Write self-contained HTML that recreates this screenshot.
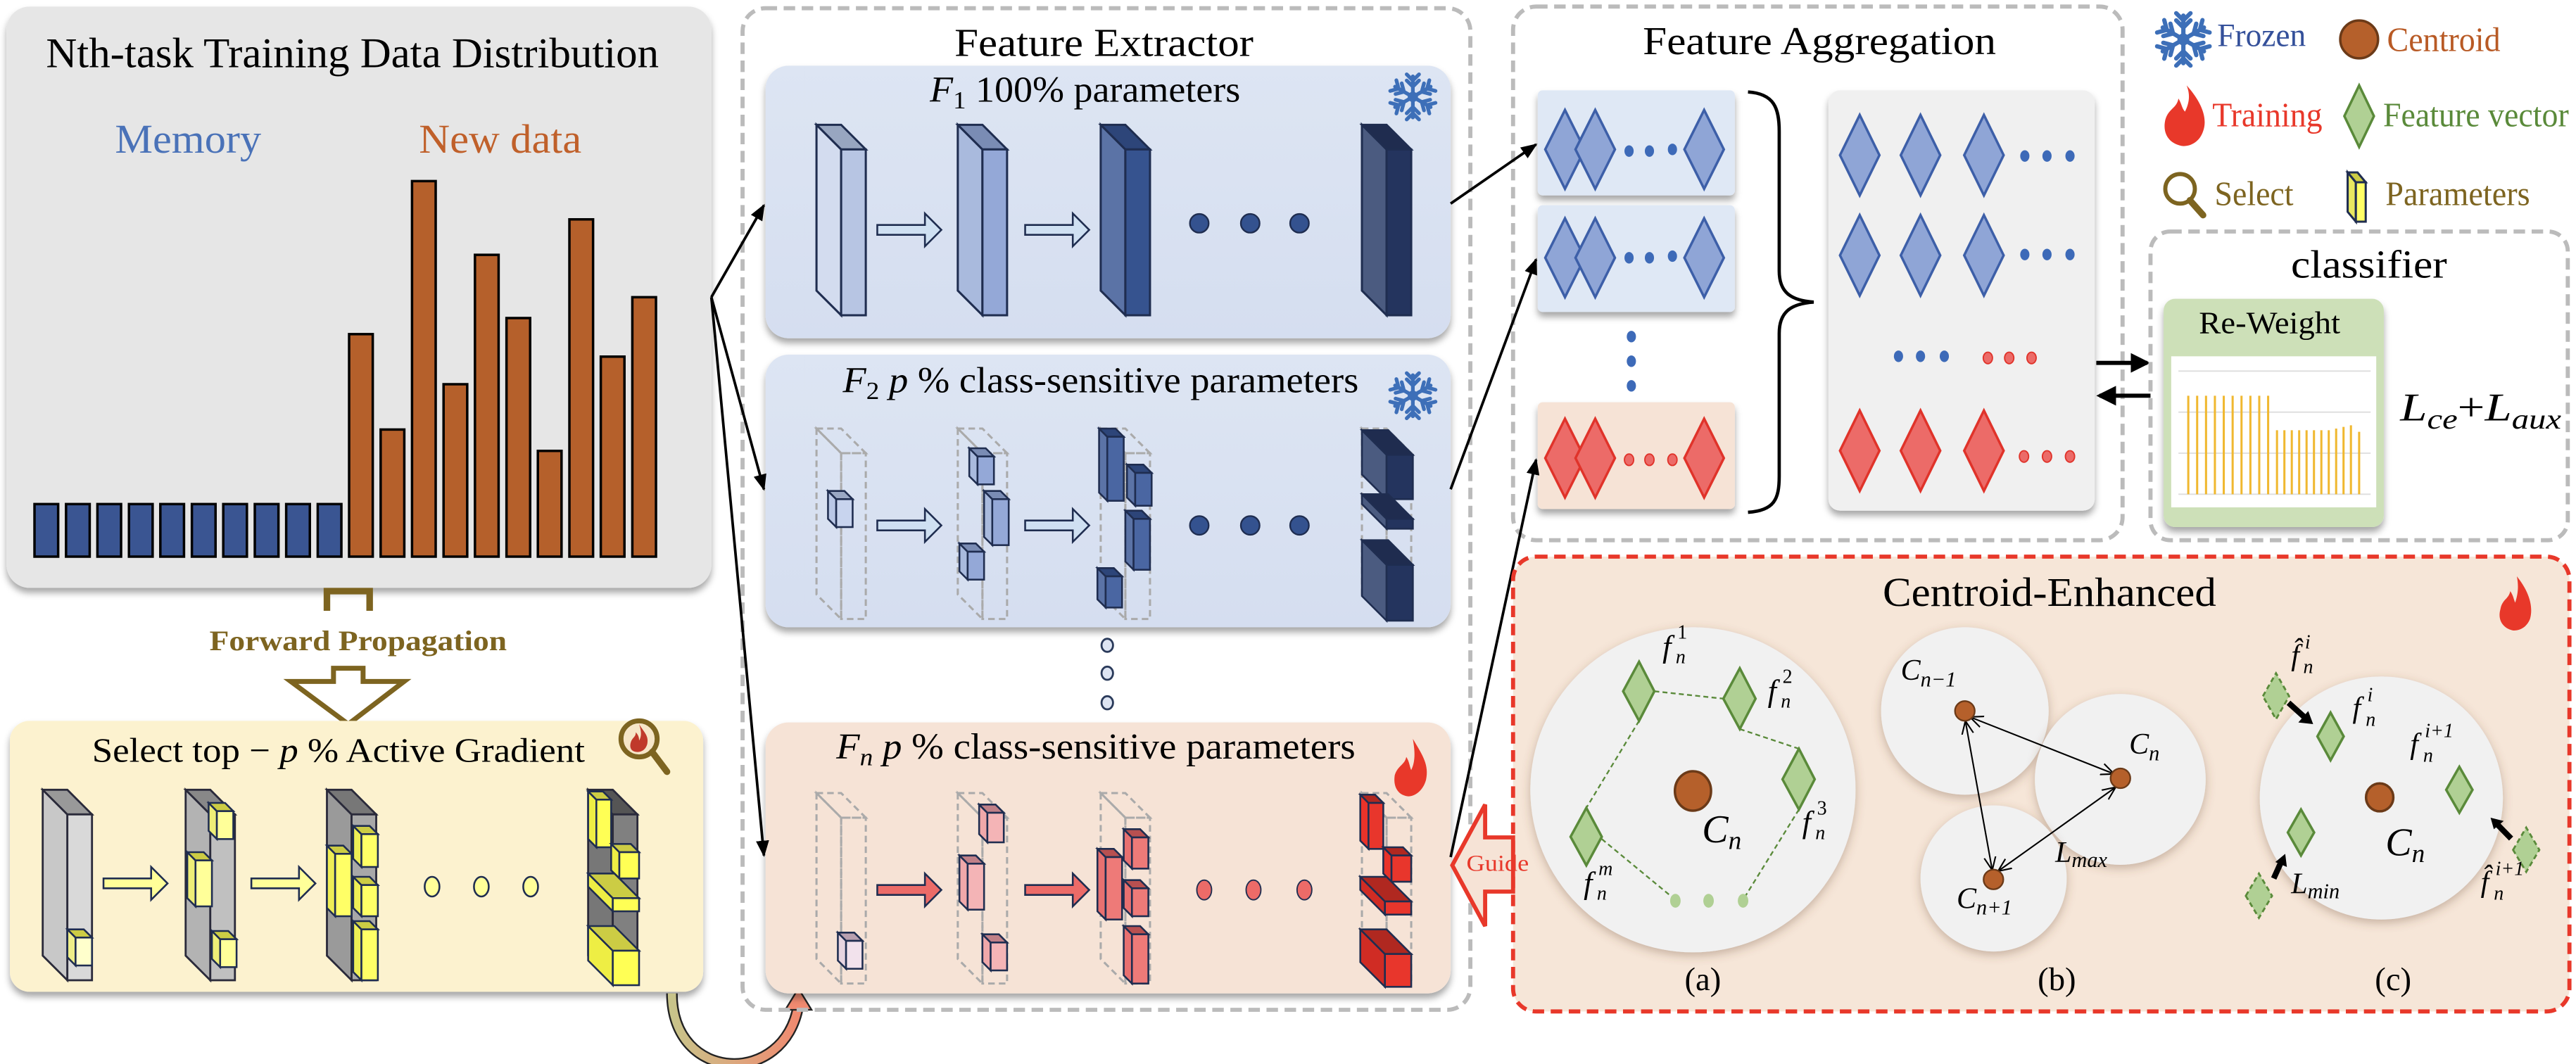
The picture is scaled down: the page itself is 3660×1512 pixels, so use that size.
<!DOCTYPE html>
<html><head><meta charset="utf-8"><style>
html,body{margin:0;padding:0;background:#fff;}
svg{display:block;}
text{font-family:"Liberation Serif",serif;}
.it{font-style:italic;}
</style></head><body>
<svg xmlns="http://www.w3.org/2000/svg" width="3660" height="1512" viewBox="0 0 1568 648" preserveAspectRatio="none">
<defs>
<filter id="sh" x="-10%" y="-10%" width="120%" height="125%"><feDropShadow dx="0" dy="3" stdDeviation="2" flood-color="#000" flood-opacity="0.35"/></filter>
<filter id="sh2" x="-10%" y="-10%" width="120%" height="125%"><feDropShadow dx="0" dy="2" stdDeviation="3" flood-color="#6b4a30" flood-opacity="0.35"/></filter>
<marker id="ah" markerWidth="10" markerHeight="10" refX="9" refY="5" orient="auto-start-reverse" markerUnits="userSpaceOnUse"><path d="M0,1 L10,5 L0,9 Z" fill="#000"/></marker>
<marker id="ah2" markerWidth="8" markerHeight="8" refX="7" refY="4" orient="auto-start-reverse" markerUnits="userSpaceOnUse"><path d="M0,0.5 L8,4 L0,7.5" fill="none" stroke="#000" stroke-width="0.9"/></marker>
<marker id="ah3" markerWidth="12" markerHeight="12" refX="10" refY="6" orient="auto" markerUnits="userSpaceOnUse"><path d="M0,0 L12,6 L0,12 Z" fill="#000"/></marker>
<linearGradient id="cg" x1="0" y1="0" x2="1" y2="0"><stop offset="0" stop-color="#c8c48a"/><stop offset="1" stop-color="#f08a70"/></linearGradient>
<linearGradient id="bl" x1="0" y1="0" x2="0" y2="1"><stop offset="0" stop-color="#dde5f3"/><stop offset="1" stop-color="#d5def0"/></linearGradient>
<g id="arm"><line x1="0" y1="0" x2="0" y2="-10" /><polyline points="-3,-8 0,-5 3,-8" fill="none"/><polyline points="-3,-11 0,-8 3,-11" fill="none"/></g>
<g id="snow" stroke="#3d6fb8" stroke-width="1.8" stroke-linecap="round">
<use href="#arm"/><use href="#arm" transform="rotate(60)"/><use href="#arm" transform="rotate(120)"/><use href="#arm" transform="rotate(180)"/><use href="#arm" transform="rotate(240)"/><use href="#arm" transform="rotate(300)"/>
<circle r="2.5" fill="#3d6fb8" stroke="none"/>
</g>
</defs>

<!-- ============ Top-left panel ============ -->
<rect x="4" y="4" width="429" height="354" rx="14" fill="#e6e6e6" filter="url(#sh)"/>
<text x="28" y="41" font-size="26" textLength="373" lengthAdjust="spacingAndGlyphs">Nth-task Training Data Distribution</text>
<text x="70" y="93" font-size="25" fill="#4a72b8" textLength="89" lengthAdjust="spacingAndGlyphs">Memory</text>
<text x="255" y="93" font-size="25" fill="#c0602a" textLength="99" lengthAdjust="spacingAndGlyphs">New data</text>
<g stroke="#000" stroke-width="1.5" fill="#3a5592">
<rect x="21" y="307" width="14.4" height="32"/><rect x="40.2" y="307" width="14.4" height="32"/><rect x="59.3" y="307" width="14.4" height="32"/><rect x="78.5" y="307" width="14.4" height="32"/><rect x="97.6" y="307" width="14.4" height="32"/><rect x="116.8" y="307" width="14.4" height="32"/><rect x="135.9" y="307" width="14.4" height="32"/><rect x="155.1" y="307" width="14.4" height="32"/><rect x="174.2" y="307" width="14.4" height="32"/><rect x="193.4" y="307" width="14.4" height="32"/>
</g>
<g stroke="#000" stroke-width="1.5" fill="#b5602b">
<rect x="212.5" y="203.5" width="14.4" height="135.5"/>
<rect x="231.7" y="261.6" width="14.4" height="77.4"/>
<rect x="250.8" y="110.3" width="14.4" height="228.7"/>
<rect x="270" y="234" width="14.4" height="105"/>
<rect x="289.1" y="155.2" width="14.4" height="183.8"/>
<rect x="308.3" y="193.7" width="14.4" height="145.3"/>
<rect x="327.4" y="274.6" width="14.4" height="64.4"/>
<rect x="346.6" y="133.6" width="14.4" height="205.4"/>
<rect x="365.7" y="217.2" width="14.4" height="121.8"/>
<rect x="384.9" y="181" width="14.4" height="158"/>
</g>

<!-- Forward propagation -->
<path d="M199,372 L199,360 L225,360 L225,372" fill="none" stroke="#7d6420" stroke-width="4"/>
<text x="218" y="396" font-size="17" font-weight="bold" fill="#7d6420" text-anchor="middle" textLength="181" lengthAdjust="spacingAndGlyphs">Forward Propagation</text>
<polygon points="203,407 221,407 221,415 246,415 212,441 177,415 203,415" fill="#fff" stroke="#7d6420" stroke-width="3"/>

<!-- ============ Yellow panel ============ -->
<rect x="6" y="439" width="422" height="165" rx="12" fill="#fcf2cf" filter="url(#sh)"/>
<text x="56" y="464" font-size="21" textLength="300" lengthAdjust="spacingAndGlyphs">Select top − <tspan class="it">p</tspan> % Active Gradient</text>
<g>
<circle cx="389" cy="450" r="11" fill="#f6e6c8" stroke="#7d6420" stroke-width="3"/>
<path d="M389,441 C392,446 395,448 394,453 C393,457 390,458 388,458 C384,458 383,455 384,452 C385,449 387,449 387,446 C389,448 389,450 389,451 C391,448 390,444 389,441 Z" fill="#c0392b"/>
<line x1="397" y1="458" x2="406" y2="470" stroke="#7d6420" stroke-width="4" stroke-linecap="round"/>
</g>
<g stroke="#2a2a3a" stroke-width="1.2">
<g transform="translate(26,481)"><polygon points="0,0 15,15 15,116 0,101" fill="#c8c8c8"/><polygon points="0,0 15,0 30,15 15,15" fill="#999"/><rect x="15" y="15" width="15" height="101" fill="#d9d9d9"/></g>
<g transform="translate(113,481)"><polygon points="0,0 15,15 15,116 0,101" fill="#b3b3b3"/><polygon points="0,0 15,0 30,15 15,15" fill="#888"/><rect x="15" y="15" width="15" height="101" fill="#c0c0c0"/></g>
<g transform="translate(199,481)"><polygon points="0,0 15,15 15,116 0,101" fill="#9a9a9a"/><polygon points="0,0 15,0 30,15 15,15" fill="#777"/><rect x="15" y="15" width="15" height="101" fill="#a8a8a8"/></g>
<g transform="translate(358,481)"><polygon points="0,0 15,15 15,116 0,101" fill="#777"/><polygon points="0,0 15,0 30,15 15,15" fill="#555"/><rect x="15" y="15" width="15" height="101" fill="#808080"/></g>
</g>
<g stroke="#1f2d50" stroke-width="1.1">
<g transform="translate(41,566)"><polygon points="0,0 5,5 5,22 0,17" fill="#eeee88"/><polygon points="0,0 10,0 15,5 5,5" fill="#cccc44"/><rect x="5" y="5" width="10" height="17" fill="#ffffcc"/></g>
<g transform="translate(127,489)"><polygon points="0,0 5,5 5,22 0,17" fill="#eeee77"/><polygon points="0,0 10,0 15,5 5,5" fill="#cccc44"/><rect x="5" y="5" width="10" height="17" fill="#ffff99"/></g>
<g transform="translate(114,519)"><polygon points="0,0 5,5 5,33 0,28" fill="#eeee77"/><polygon points="0,0 10,0 15,5 5,5" fill="#cccc44"/><rect x="5" y="5" width="10" height="28" fill="#ffff99"/></g>
<g transform="translate(129,567)"><polygon points="0,0 5,5 5,22 0,17" fill="#eeee77"/><polygon points="0,0 10,0 15,5 5,5" fill="#cccc44"/><rect x="5" y="5" width="10" height="17" fill="#ffff99"/></g>
<g transform="translate(215,503)"><polygon points="0,0 5,5 5,25 0,20" fill="#eeee55"/><polygon points="0,0 10,0 15,5 5,5" fill="#cccc44"/><rect x="5" y="5" width="10" height="20" fill="#ffff66"/></g>
<g transform="translate(199,515)"><polygon points="0,0 5,5 5,43 0,38" fill="#eeee55"/><polygon points="0,0 10,0 15,5 5,5" fill="#cccc44"/><rect x="5" y="5" width="10" height="38" fill="#ffff66"/></g>
<g transform="translate(215,534)"><polygon points="0,0 5,5 5,24 0,19" fill="#eeee55"/><polygon points="0,0 10,0 15,5 5,5" fill="#cccc44"/><rect x="5" y="5" width="10" height="19" fill="#ffff66"/></g>
<g transform="translate(215,561)"><polygon points="0,0 5,5 5,36 0,31" fill="#eeee55"/><polygon points="0,0 10,0 15,5 5,5" fill="#cccc44"/><rect x="5" y="5" width="10" height="31" fill="#ffff66"/></g>
<g transform="translate(358,482)"><polygon points="0,0 5,5 5,34 0,29" fill="#eeee44"/><polygon points="0,0 9,0 14,5 5,5" fill="#cccc44"/><rect x="5" y="5" width="9" height="29" fill="#ffff55"/></g>
<g transform="translate(372,514)"><polygon points="0,0 5,5 5,21 0,16" fill="#eeee44"/><polygon points="0,0 12,0 17,5 5,5" fill="#cccc44"/><rect x="5" y="5" width="12" height="16" fill="#ffff55"/></g>
<g transform="translate(358,532)"><polygon points="0,0 15,15 15,23 0,8" fill="#eeee44"/><polygon points="0,0 16,0 31,15 15,15" fill="#cccc44"/><rect x="15" y="15" width="16" height="8" fill="#ffff55"/></g>
<g transform="translate(358,564)"><polygon points="0,0 15,15 15,36 0,21" fill="#eeee44"/><polygon points="0,0 16,0 31,15 15,15" fill="#cccc44"/><rect x="15" y="15" width="16" height="21" fill="#ffff55"/></g>
</g>
<g fill="#ffff99" stroke="#1f2d50" stroke-width="1.1">
<polygon points="63,535 92,535 92,528 102,538 92,548 92,541 63,541"/>
<polygon points="153,535 182,535 182,528 192,538 182,548 182,541 153,541"/>
<ellipse cx="263" cy="540" rx="4.5" ry="6"/><ellipse cx="293" cy="540" rx="4.5" ry="6"/><ellipse cx="323" cy="540" rx="4.5" ry="6"/>
</g>

<!-- curved arrow -->
<path d="M409,605 C409,660 478,662 486,612" fill="none" stroke="#222" stroke-width="7"/>
<path d="M409,605 C409,660 478,662 486,612" fill="none" stroke="url(#cg)" stroke-width="5"/>
<polygon points="486,602 478,615 494,615" fill="#f08a70" stroke="#222" stroke-width="1"/>

<!-- ============ Feature Extractor ============ -->
<rect x="452" y="5" width="443" height="610" rx="14" fill="none" stroke="#bbb" stroke-width="2.5" stroke-dasharray="7,4"/>
<text x="581" y="34" font-size="24" textLength="182" lengthAdjust="spacingAndGlyphs">Feature Extractor</text>

<!-- F1 -->
<rect x="466" y="40" width="417" height="166" rx="14" fill="url(#bl)" filter="url(#sh)"/>
<text x="566" y="62" font-size="22" textLength="189" lengthAdjust="spacingAndGlyphs"><tspan class="it">F</tspan><tspan font-size="15" dy="4">1</tspan><tspan dy="-4"> 100% parameters</tspan></text>
<use href="#snow" transform="translate(860,59) scale(1.25)"/>
<g stroke="#1f2d50" stroke-width="1.3">
<g transform="translate(497,76)"><polygon points="0,0 15,15 15,116 0,101" fill="#d3dcef"/><polygon points="0,0 15,0 30,15 15,15" fill="#98a6c0"/><rect x="15" y="15" width="15" height="101" fill="#b7c5e3"/></g>
<g transform="translate(583,76)"><polygon points="0,0 15,15 15,116 0,101" fill="#a9badd"/><polygon points="0,0 15,0 30,15 15,15" fill="#7a8cb4"/><rect x="15" y="15" width="15" height="101" fill="#94a8d7"/></g>
<g transform="translate(670,76)"><polygon points="0,0 15,15 15,116 0,101" fill="#5b73a6"/><polygon points="0,0 15,0 30,15 15,15" fill="#2d4579"/><rect x="15" y="15" width="15" height="101" fill="#36538f"/></g>
<g transform="translate(829,76)"><polygon points="0,0 15,15 15,116 0,101" fill="#4b5b80"/><polygon points="0,0 15,0 30,15 15,15" fill="#1f2c4f"/><rect x="15" y="15" width="15" height="101" fill="#24345e"/></g>
</g>
<g fill="#cfe0f2" stroke="#1f2d50" stroke-width="1.1">
<polygon points="534,137 563,137 563,130 573,140 563,150 563,143 534,143"/>
<polygon points="624,137 653,137 653,130 663,140 653,150 653,143 624,143"/>
</g>
<g fill="#34528f" stroke="#1f2d50"><circle cx="730" cy="136" r="5.7"/><circle cx="761" cy="136" r="5.7"/><circle cx="791" cy="136" r="5.7"/></g>

<!-- F2 -->
<rect x="466" y="216" width="417" height="166" rx="14" fill="url(#bl)" filter="url(#sh)"/>
<text x="513" y="239" font-size="22" textLength="314" lengthAdjust="spacingAndGlyphs"><tspan class="it">F</tspan><tspan font-size="15" dy="4">2</tspan><tspan dy="-4"> </tspan><tspan class="it">p</tspan> % class-sensitive parameters</text>
<use href="#snow" transform="translate(860,241) scale(1.25)"/>
<g fill="none" stroke="#aaa" stroke-width="1.3" stroke-dasharray="4,2.5">
<g transform="translate(497,261)"><polygon points="0,0 15,15 15,116 0,101"/><polygon points="0,0 15,0 30,15 15,15"/><rect x="15" y="15" width="15" height="101"/></g>
<g transform="translate(583,261)"><polygon points="0,0 15,15 15,116 0,101"/><polygon points="0,0 15,0 30,15 15,15"/><rect x="15" y="15" width="15" height="101"/></g>
<g transform="translate(670,261)"><polygon points="0,0 15,15 15,116 0,101"/><polygon points="0,0 15,0 30,15 15,15"/><rect x="15" y="15" width="15" height="101"/></g>
<g transform="translate(829,261)"><polygon points="0,0 15,15 15,116 0,101"/><polygon points="0,0 15,0 30,15 15,15"/><rect x="15" y="15" width="15" height="101"/></g>
</g>
<g stroke="#1f2d50" stroke-width="1.1">
<g transform="translate(504,299)"><polygon points="0,0 5,5 5,22 0,17" fill="#b9c7e6"/><polygon points="0,0 10,0 15,5 5,5" fill="#9aa8c4"/><rect x="5" y="5" width="10" height="17" fill="#c8d4ee"/></g>
<g transform="translate(590,273)"><polygon points="0,0 5,5 5,22 0,17" fill="#a9badd"/><polygon points="0,0 10,0 15,5 5,5" fill="#7a8cb4"/><rect x="5" y="5" width="10" height="17" fill="#94a8d7"/></g>
<g transform="translate(599,299)"><polygon points="0,0 5,5 5,33 0,28" fill="#a9badd"/><polygon points="0,0 10,0 15,5 5,5" fill="#7a8cb4"/><rect x="5" y="5" width="10" height="28" fill="#94a8d7"/></g>
<g transform="translate(584,331)"><polygon points="0,0 5,5 5,22 0,17" fill="#a9badd"/><polygon points="0,0 10,0 15,5 5,5" fill="#7a8cb4"/><rect x="5" y="5" width="10" height="17" fill="#94a8d7"/></g>
<g transform="translate(669,261)"><polygon points="0,0 5,5 5,44 0,39" fill="#5b73a6"/><polygon points="0,0 10,0 15,5 5,5" fill="#2d4579"/><rect x="5" y="5" width="10" height="39" fill="#4a66a2"/></g>
<g transform="translate(686,283)"><polygon points="0,0 5,5 5,25 0,20" fill="#5b73a6"/><polygon points="0,0 10,0 15,5 5,5" fill="#2d4579"/><rect x="5" y="5" width="10" height="20" fill="#4a66a2"/></g>
<g transform="translate(685,311)"><polygon points="0,0 5,5 5,36 0,31" fill="#5b73a6"/><polygon points="0,0 10,0 15,5 5,5" fill="#2d4579"/><rect x="5" y="5" width="10" height="31" fill="#4a66a2"/></g>
<g transform="translate(668,346)"><polygon points="0,0 5,5 5,24 0,19" fill="#5b73a6"/><polygon points="0,0 10,0 15,5 5,5" fill="#2d4579"/><rect x="5" y="5" width="10" height="19" fill="#4a66a2"/></g>
<g transform="translate(829,262)"><polygon points="0,0 15,15 15,42 0,27" fill="#4b5b80"/><polygon points="0,0 16,0 31,15 15,15" fill="#1f2c4f"/><rect x="15" y="15" width="16" height="27" fill="#24345e"/></g>
<g transform="translate(829,301)"><polygon points="0,0 15,15 15,21 0,6" fill="#4b5b80"/><polygon points="0,0 16,0 31,15 15,15" fill="#1f2c4f"/><rect x="15" y="15" width="16" height="6" fill="#24345e"/></g>
<g transform="translate(829,329)"><polygon points="0,0 15,15 15,49 0,34" fill="#4b5b80"/><polygon points="0,0 16,0 31,15 15,15" fill="#1f2c4f"/><rect x="15" y="15" width="16" height="34" fill="#24345e"/></g>
</g>
<g fill="#cfe0f2" stroke="#1f2d50" stroke-width="1.1">
<polygon points="534,317 563,317 563,310 573,320 563,330 563,323 534,323"/>
<polygon points="624,317 653,317 653,310 663,320 653,330 653,323 624,323"/>
</g>
<g fill="#34528f" stroke="#1f2d50"><circle cx="730" cy="320" r="5.7"/><circle cx="761" cy="320" r="5.7"/><circle cx="791" cy="320" r="5.7"/></g>
<g fill="#dde4f2" stroke="#2a3a5a" stroke-width="1.2"><ellipse cx="674" cy="393" rx="3.5" ry="4"/><ellipse cx="674" cy="410" rx="3.5" ry="4"/><ellipse cx="674" cy="428" rx="3.5" ry="4"/></g>

<!-- Fn -->
<rect x="466" y="440" width="417" height="165" rx="14" fill="#f6e3d6" filter="url(#sh)"/>
<text x="509" y="462" font-size="22" textLength="316" lengthAdjust="spacingAndGlyphs"><tspan class="it">F</tspan><tspan font-size="15" dy="4" class="it">n</tspan><tspan dy="-4"> </tspan><tspan class="it">p</tspan> % class-sensitive parameters</text>
<path d="M860,450 C866,460 870,466 868,475 C866,482 861,485 857,485 C850,484 848,478 849,472 C851,466 855,466 856,461 C858,464 858,467 859,469 C862,463 861,456 860,450 Z" fill="#e8382a"/>
<g fill="none" stroke="#aaa" stroke-width="1.3" stroke-dasharray="4,2.5">
<g transform="translate(497,483)"><polygon points="0,0 15,15 15,116 0,101"/><polygon points="0,0 15,0 30,15 15,15"/><rect x="15" y="15" width="15" height="101"/></g>
<g transform="translate(583,483)"><polygon points="0,0 15,15 15,116 0,101"/><polygon points="0,0 15,0 30,15 15,15"/><rect x="15" y="15" width="15" height="101"/></g>
<g transform="translate(670,483)"><polygon points="0,0 15,15 15,116 0,101"/><polygon points="0,0 15,0 30,15 15,15"/><rect x="15" y="15" width="15" height="101"/></g>
<g transform="translate(829,483)"><polygon points="0,0 15,15 15,116 0,101"/><polygon points="0,0 15,0 30,15 15,15"/><rect x="15" y="15" width="15" height="101"/></g>
</g>
<g stroke="#1f2d50" stroke-width="1.1">
<g transform="translate(510,568)"><polygon points="0,0 5,5 5,22 0,17" fill="#e6d4e0"/><polygon points="0,0 10,0 15,5 5,5" fill="#b8a0b0"/><rect x="5" y="5" width="10" height="17" fill="#f2e2ec"/></g>
<g transform="translate(596,490)"><polygon points="0,0 5,5 5,23 0,18" fill="#f0a8aa"/><polygon points="0,0 10,0 15,5 5,5" fill="#c08088"/><rect x="5" y="5" width="10" height="18" fill="#f4b4b6"/></g>
<g transform="translate(584,521)"><polygon points="0,0 5,5 5,33 0,28" fill="#f0a8aa"/><polygon points="0,0 10,0 15,5 5,5" fill="#c08088"/><rect x="5" y="5" width="10" height="28" fill="#f4b4b6"/></g>
<g transform="translate(598,569)"><polygon points="0,0 5,5 5,22 0,17" fill="#f0a8aa"/><polygon points="0,0 10,0 15,5 5,5" fill="#c08088"/><rect x="5" y="5" width="10" height="17" fill="#f4b4b6"/></g>
<g transform="translate(684,505)"><polygon points="0,0 5,5 5,24 0,19" fill="#e87070"/><polygon points="0,0 10,0 15,5 5,5" fill="#b85050"/><rect x="5" y="5" width="10" height="19" fill="#ee7a78"/></g>
<g transform="translate(668,517)"><polygon points="0,0 5,5 5,43 0,38" fill="#e87070"/><polygon points="0,0 10,0 15,5 5,5" fill="#b85050"/><rect x="5" y="5" width="10" height="38" fill="#ee7a78"/></g>
<g transform="translate(684,536)"><polygon points="0,0 5,5 5,22 0,17" fill="#e87070"/><polygon points="0,0 10,0 15,5 5,5" fill="#b85050"/><rect x="5" y="5" width="10" height="17" fill="#ee7a78"/></g>
<g transform="translate(684,564)"><polygon points="0,0 5,5 5,35 0,30" fill="#e87070"/><polygon points="0,0 10,0 15,5 5,5" fill="#b85050"/><rect x="5" y="5" width="10" height="30" fill="#ee7a78"/></g>
<g transform="translate(828,484)"><polygon points="0,0 5,5 5,33 0,28" fill="#e8332a"/><polygon points="0,0 9,0 14,5 5,5" fill="#b02820"/><rect x="5" y="5" width="9" height="28" fill="#e8362c"/></g>
<g transform="translate(842,516)"><polygon points="0,0 5,5 5,21 0,16" fill="#e8332a"/><polygon points="0,0 12,0 17,5 5,5" fill="#b02820"/><rect x="5" y="5" width="12" height="16" fill="#e8362c"/></g>
<g transform="translate(828,534)"><polygon points="0,0 15,15 15,23 0,8" fill="#d02c24"/><polygon points="0,0 16,0 31,15 15,15" fill="#b02820"/><rect x="15" y="15" width="16" height="8" fill="#e8362c"/></g>
<g transform="translate(828,566)"><polygon points="0,0 15,15 15,35 0,20" fill="#d02c24"/><polygon points="0,0 16,0 31,15 15,15" fill="#b02820"/><rect x="15" y="15" width="16" height="20" fill="#e8362c"/></g>
</g>
<g fill="#ec6b68" stroke="#1f2d50" stroke-width="1.1">
<polygon points="534,539 563,539 563,532 573,542 563,552 563,545 534,545"/>
<polygon points="624,539 653,539 653,532 663,542 653,552 653,545 624,545"/>
</g>
<g fill="#ec6b68" stroke="#1f2d50" stroke-width="0.8"><ellipse cx="733" cy="542" rx="4.5" ry="6"/><ellipse cx="763" cy="542" rx="4.5" ry="6"/><ellipse cx="794" cy="542" rx="4.5" ry="6"/></g>

<!-- arrows from data panel -->
<g stroke="#000" stroke-width="1.6" fill="none" marker-end="url(#ah)">
<line x1="433" y1="181" x2="465" y2="125"/>
<line x1="433" y1="181" x2="465" y2="298"/>
<line x1="433" y1="181" x2="465" y2="521"/>
</g>

<!-- ============ Feature Aggregation ============ -->
<rect x="921" y="4" width="371" height="325" rx="14" fill="none" stroke="#bbb" stroke-width="2.5" stroke-dasharray="7,4"/>
<text x="1000" y="33" font-size="24" textLength="215" lengthAdjust="spacingAndGlyphs">Feature Aggregation</text>
<rect x="936" y="55" width="120" height="64" rx="3" fill="#dfe8f5" filter="url(#sh)"/>
<rect x="936" y="125" width="120" height="65" rx="3" fill="#dfe8f5" filter="url(#sh)"/>
<rect x="936" y="245" width="120" height="65" rx="3" fill="#f6e3d6" filter="url(#sh)"/>
<g fill="#8fa5d6" stroke="#3d5fa8" stroke-width="1.5">
<polygon points="940.6,91 952.6,67 964.6,91 952.6,115"/><polygon points="959,91 971,67 983,91 971,115"/><polygon points="1025.3,91 1037.3,67 1049.3,91 1037.3,115"/>
<polygon points="940.6,157 952.6,133 964.6,157 952.6,181"/><polygon points="959,157 971,133 983,157 971,181"/><polygon points="1025.3,157 1037.3,133 1049.3,157 1037.3,181"/>
</g>
<g fill="#ec6b68" stroke="#e0332a" stroke-width="1.5">
<polygon points="940.6,279 952.6,255 964.6,279 952.6,303"/><polygon points="959,279 971,255 983,279 971,303"/><polygon points="1025.3,279 1037.3,255 1049.3,279 1037.3,303"/>
</g>
<g fill="#3d6ab8"><ellipse cx="991.6" cy="92" rx="2.8" ry="3.5"/><ellipse cx="1004" cy="92" rx="2.8" ry="3.5"/><ellipse cx="1018" cy="91" rx="2.8" ry="3.5"/>
<ellipse cx="991.6" cy="157" rx="2.8" ry="3.5"/><ellipse cx="1004" cy="157" rx="2.8" ry="3.5"/><ellipse cx="1018" cy="156" rx="2.8" ry="3.5"/>
<ellipse cx="993" cy="205" rx="2.8" ry="3.5"/><ellipse cx="993" cy="220" rx="2.8" ry="3.5"/><ellipse cx="993" cy="235" rx="2.8" ry="3.5"/></g>
<g fill="#ec6b68" stroke="#e0332a" stroke-width="0.8"><ellipse cx="991.6" cy="280" rx="2.8" ry="3.5"/><ellipse cx="1004" cy="280" rx="2.8" ry="3.5"/><ellipse cx="1018" cy="280" rx="2.8" ry="3.5"/></g>
<path d="M1064,56 C1080,57 1083,66 1083,80 L1083,165 C1083,178 1090,183 1104,184 C1090,185 1083,190 1083,203 L1083,290 C1083,304 1080,311 1064,312" fill="none" stroke="#000" stroke-width="2"/>
<rect x="1113" y="55" width="162" height="256" rx="7" fill="#f0f0f0" filter="url(#sh)"/>
<g fill="#8fa5d6" stroke="#3d5fa8" stroke-width="1.5">
<polygon points="1120,94.5 1132,70 1144,94.5 1132,119"/><polygon points="1157,94.5 1169,70 1181,94.5 1169,119"/><polygon points="1195.6,94.5 1207.6,70 1219.6,94.5 1207.6,119"/>
<polygon points="1120,155.5 1132,131 1144,155.5 1132,180"/><polygon points="1157,155.5 1169,131 1181,155.5 1169,180"/><polygon points="1195.6,155.5 1207.6,131 1219.6,155.5 1207.6,180"/>
</g>
<g fill="#ec6b68" stroke="#e0332a" stroke-width="1.5">
<polygon points="1120,274.5 1132,250 1144,274.5 1132,299"/><polygon points="1157,274.5 1169,250 1181,274.5 1169,299"/><polygon points="1195.6,274.5 1207.6,250 1219.6,274.5 1207.6,299"/>
</g>
<g fill="#3d6ab8"><ellipse cx="1232.5" cy="95" rx="2.8" ry="3.5"/><ellipse cx="1246" cy="95" rx="2.8" ry="3.5"/><ellipse cx="1260" cy="95" rx="2.8" ry="3.5"/>
<ellipse cx="1232.5" cy="155" rx="2.8" ry="3.5"/><ellipse cx="1246" cy="155" rx="2.8" ry="3.5"/><ellipse cx="1260" cy="155" rx="2.8" ry="3.5"/>
<ellipse cx="1155.6" cy="217" rx="2.8" ry="3.5"/><ellipse cx="1169" cy="217" rx="2.8" ry="3.5"/><ellipse cx="1183.5" cy="217" rx="2.8" ry="3.5"/></g>
<g fill="#ec6b68" stroke="#e0332a" stroke-width="0.8"><ellipse cx="1210" cy="218" rx="2.8" ry="3.5"/><ellipse cx="1223" cy="218" rx="2.8" ry="3.5"/><ellipse cx="1236.6" cy="218" rx="2.8" ry="3.5"/>
<ellipse cx="1232" cy="278" rx="2.8" ry="3.5"/><ellipse cx="1246" cy="278" rx="2.8" ry="3.5"/><ellipse cx="1260" cy="278" rx="2.8" ry="3.5"/></g>

<g stroke="#000" stroke-width="1.6" fill="none" marker-end="url(#ah)">
<line x1="883" y1="124" x2="935" y2="88"/>
<line x1="883" y1="298" x2="935" y2="158"/>
<line x1="883" y1="522" x2="935" y2="280"/>
</g>
<line x1="1276" y1="221" x2="1307" y2="221" stroke="#000" stroke-width="2.5" marker-end="url(#ah3)"/>
<line x1="1309" y1="241" x2="1278" y2="241" stroke="#000" stroke-width="2.5" marker-end="url(#ah3)"/>

<!-- ============ Legend ============ -->
<use href="#snow" transform="translate(1329,24) scale(1.45)"/>
<text x="1349.6" y="28" font-size="20" fill="#34509a" textLength="54" lengthAdjust="spacingAndGlyphs">Frozen</text>
<circle cx="1436" cy="24" r="11.5" fill="#b5602b" stroke="#6b3a18" stroke-width="1.5"/>
<text x="1453" y="31" font-size="21" fill="#b85a25" textLength="69" lengthAdjust="spacingAndGlyphs">Centroid</text>
<path d="M1331,52 C1340,62 1344,72 1341,80 C1339,86 1334,89 1329,89 C1321,88 1316,82 1318,73 C1320,66 1325,66 1326,60 C1328,63 1328,66 1330,68 C1333,62 1333,57 1331,52 Z" fill="#e8382a"/>
<text x="1346.6" y="77" font-size="21" fill="#e8382a" textLength="67" lengthAdjust="spacingAndGlyphs">Training</text>
<polygon points="1427,70.7 1436,52 1445,70.7 1436,89.5" fill="#b0d094" stroke="#5a8a3a" stroke-width="1.5"/>
<text x="1450.6" y="77" font-size="21" fill="#5a8a3a" textLength="113" lengthAdjust="spacingAndGlyphs">Feature vector</text>
<circle cx="1327" cy="115" r="9" fill="none" stroke="#7d6420" stroke-width="2.5"/>
<line x1="1333" y1="122" x2="1341" y2="131" stroke="#7d6420" stroke-width="4" stroke-linecap="round"/>
<text x="1348" y="125" font-size="21" fill="#7d6420" textLength="48" lengthAdjust="spacingAndGlyphs">Select</text>
<g stroke="#1f2d50" stroke-width="1.3" transform="translate(1429,105)"><polygon points="0,0 5,6 5,30 0,24" fill="#e8e860"/><polygon points="0,0 6,0 11,6 5,6" fill="#cccc44"/><rect x="5" y="6" width="6" height="24" fill="#ffff66"/></g>
<text x="1452" y="125" font-size="21" fill="#7d6420" textLength="88" lengthAdjust="spacingAndGlyphs">Parameters</text>

<!-- ============ classifier ============ -->
<rect x="1309" y="141" width="254" height="188" rx="12" fill="none" stroke="#bbb" stroke-width="2.5" stroke-dasharray="7,4"/>
<text x="1394.5" y="169" font-size="24" textLength="95" lengthAdjust="spacingAndGlyphs">classifier</text>
<rect x="1317" y="182" width="134" height="139" rx="7" fill="#cde0b8" filter="url(#sh)"/>
<text x="1338.5" y="203" font-size="19" textLength="86" lengthAdjust="spacingAndGlyphs">Re-Weight</text>
<rect x="1321.6" y="217" width="124.8" height="92" fill="#fff"/>
<g stroke="#ddd" stroke-width="0.8"><line x1="1326" y1="226" x2="1443" y2="226"/><line x1="1326" y1="251" x2="1443" y2="251"/><line x1="1326" y1="276" x2="1443" y2="276"/><line x1="1326" y1="301" x2="1443" y2="301"/></g>
<g stroke="#f0b830" stroke-width="1.3">
<line x1="1332" y1="241" x2="1332" y2="301"/><line x1="1337.4" y1="241" x2="1337.4" y2="301"/><line x1="1342.8" y1="241" x2="1342.8" y2="301"/><line x1="1348.2" y1="241" x2="1348.2" y2="301"/><line x1="1353.6" y1="241" x2="1353.6" y2="301"/><line x1="1359" y1="241" x2="1359" y2="301"/><line x1="1364.4" y1="241" x2="1364.4" y2="301"/><line x1="1369.8" y1="241" x2="1369.8" y2="301"/><line x1="1375.2" y1="241" x2="1375.2" y2="301"/><line x1="1380.6" y1="241" x2="1380.6" y2="301"/>
<line x1="1386" y1="262" x2="1386" y2="301"/><line x1="1390.5" y1="262" x2="1390.5" y2="301"/><line x1="1395" y1="262" x2="1395" y2="301"/><line x1="1399.5" y1="262" x2="1399.5" y2="301"/><line x1="1404" y1="262" x2="1404" y2="301"/><line x1="1408.5" y1="262" x2="1408.5" y2="301"/><line x1="1413" y1="262" x2="1413" y2="301"/><line x1="1417.5" y1="262" x2="1417.5" y2="301"/><line x1="1422" y1="261" x2="1422" y2="301"/><line x1="1426.5" y1="260" x2="1426.5" y2="301"/><line x1="1431" y1="259" x2="1431" y2="301"/><line x1="1436" y1="263" x2="1436" y2="301"/>
</g>
<text x="1461" y="256" font-size="24" class="it" textLength="98" lengthAdjust="spacingAndGlyphs">L<tspan font-size="17" dy="5">ce</tspan><tspan dy="-5" font-style="normal">+</tspan>L<tspan font-size="17" dy="5">aux</tspan></text>

<!-- ============ Centroid-Enhanced ============ -->
<rect x="921" y="339" width="643" height="277" rx="14" fill="#f6e6d8" stroke="#e8382a" stroke-width="2.5" stroke-dasharray="7,4"/>
<text x="1146" y="369" font-size="25" textLength="203" lengthAdjust="spacingAndGlyphs">Centroid-Enhanced</text>
<path d="M1532,351 C1540,361 1542,370 1540,377 C1538,382 1534,384 1530,384 C1524,383 1520,378 1522,371 C1523,365 1527,365 1528,360 C1530,363 1530,365 1531,367 C1533,361 1533,356 1532,351 Z" fill="#e8382a"/>
<!-- (a) -->
<circle cx="1030.5" cy="481" r="99" fill="#f1f1f1" filter="url(#sh2)"/>
<g fill="none" stroke="#5a8a3a" stroke-width="1" stroke-dasharray="3,2">
<line x1="1007" y1="421" x2="1049" y2="425.5"/>
<line x1="1059" y1="444" x2="1095" y2="456"/>
<line x1="997.7" y1="439" x2="965.6" y2="492"/>
<line x1="975" y1="511" x2="1019.8" y2="548"/>
<line x1="1095" y1="493" x2="1061" y2="548"/>
</g>
<g fill="#b0d094" stroke="#5a8a3a" stroke-width="1.5">
<polygon points="988,421 997.7,403 1007,421 997.7,439"/>
<polygon points="1049,425.5 1059,407 1068.6,425.5 1059,444"/>
<polygon points="1085,474.6 1095,456 1104.6,474.6 1095,493"/>
<polygon points="956,509.6 965.6,492 975,509.6 965.6,527"/>
</g>
<g fill="#b0d094"><ellipse cx="1019.8" cy="548.6" rx="3.2" ry="4.2"/><ellipse cx="1040" cy="548.6" rx="3.2" ry="4.2"/><ellipse cx="1061" cy="548.6" rx="3.2" ry="4.2"/></g>
<ellipse cx="1030.5" cy="481.7" rx="11" ry="12" fill="#b5602b" stroke="#6b3a18" stroke-width="1.5"/>
<g class="it" font-size="19">
<text x="1012" y="400">f</text><text x="1021" y="389" font-size="12" font-style="normal">1</text><text x="1020" y="404" font-size="12">n</text>
<text x="1076" y="427">f</text><text x="1085" y="416" font-size="12" font-style="normal">2</text><text x="1084" y="431" font-size="12">n</text>
<text x="1097" y="507">f</text><text x="1106" y="496" font-size="12" font-style="normal">3</text><text x="1105" y="511" font-size="12">n</text>
<text x="964" y="544">f</text><text x="973" y="533" font-size="12">m</text><text x="972" y="548" font-size="12">n</text>
<text x="1036" y="513" font-size="24">C<tspan font-size="16" dy="4">n</tspan></text>
</g>
<!-- (b) -->
<circle cx="1196" cy="433" r="51" fill="#f1f1f1" filter="url(#sh2)"/>
<circle cx="1290.6" cy="474.7" r="52" fill="#f1f1f1" filter="url(#sh2)"/>
<circle cx="1213.5" cy="535" r="44.5" fill="#f1f1f1" filter="url(#sh2)"/>
<g stroke="#000" stroke-width="0.9" fill="none" marker-start="url(#ah2)" marker-end="url(#ah2)">
<line x1="1200" y1="437" x2="1286" y2="471"/>
<line x1="1196.5" y1="440" x2="1212.5" y2="529"/>
<line x1="1217" y1="530" x2="1287" y2="480"/>
</g>
<g fill="#b5602b" stroke="#6b3a18" stroke-width="1"><ellipse cx="1196" cy="433" rx="6" ry="6"/><ellipse cx="1290.7" cy="474" rx="6" ry="6"/><ellipse cx="1213.4" cy="535.6" rx="6" ry="6"/></g>
<g class="it" font-size="18">
<text x="1157" y="414">C<tspan font-size="13" dy="4">n−1</tspan></text>
<text x="1296" y="459">C<tspan font-size="13" dy="4">n</tspan></text>
<text x="1191" y="553">C<tspan font-size="13" dy="4">n+1</tspan></text>
<text x="1251" y="525">L<tspan font-size="13" dy="3">max</tspan></text>
</g>
<!-- (c) -->
<circle cx="1449.5" cy="486" r="74" fill="#f1f1f1" filter="url(#sh2)"/>
<g fill="#b0d094" stroke="#5a8a3a" stroke-width="1.5">
<polygon points="1410.6,448.5 1418.6,434 1426.6,448.5 1418.6,463"/>
<polygon points="1489,481 1497,467 1505,481 1497,495"/>
<polygon points="1392.6,507 1400.6,493 1408.6,507 1400.6,521"/>
</g>
<g fill="#b0d094" stroke="#5a8a3a" stroke-width="1.2" stroke-dasharray="3,2">
<polygon points="1377.4,424 1385.4,410 1393.4,424 1385.4,438"/>
<polygon points="1529.7,517.6 1537.7,504 1545.7,517.6 1537.7,531"/>
<polygon points="1367,545.6 1375,532 1383,545.6 1375,559"/>
</g>
<ellipse cx="1448.5" cy="485.6" rx="8.3" ry="8.5" fill="#b5602b" stroke="#6b3a18" stroke-width="1.5"/>
<g stroke="#000" stroke-width="3.5" fill="none">
<line x1="1393" y1="428" x2="1403" y2="437"/>
<line x1="1528.5" y1="510.7" x2="1520" y2="502"/>
<line x1="1384" y1="535" x2="1388.5" y2="525"/>
</g>
<g fill="#000"><polygon points="1408,441 1399,440 1405,433"/><polygon points="1516,498 1524,500 1518,505"/><polygon points="1391,520 1392,528 1385,525"/></g>
<g class="it" font-size="18">
<text x="1394.6" y="405">f̂</text><text x="1403" y="395" font-size="12">i</text><text x="1402" y="410" font-size="12">n</text>
<text x="1432" y="437">f</text><text x="1441" y="427" font-size="12">i</text><text x="1440" y="442" font-size="12">n</text>
<text x="1467" y="459">f</text><text x="1476" y="449" font-size="12">i+1</text><text x="1475" y="464" font-size="12">n</text>
<text x="1452" y="521" font-size="24">C<tspan font-size="16" dy="4">n</tspan></text>
<text x="1394.6" y="544">L<tspan font-size="13" dy="3">min</tspan></text>
<text x="1510" y="543">f̂</text><text x="1519" y="533" font-size="12">i+1</text><text x="1518" y="548" font-size="12">n</text>
</g>
<text x="1036.5" y="603" font-size="20" text-anchor="middle">(a)</text>
<text x="1252" y="603" font-size="20" text-anchor="middle">(b)</text>
<text x="1456.7" y="603" font-size="20" text-anchor="middle">(c)</text>

<!-- Guide arrow -->
<polygon points="884,527 904,490 904,510 921,510 921,543 904,543 904,564" fill="#f6e3d6" stroke="#e8382a" stroke-width="2.5"/>
<text x="892.6" y="530.4" font-size="14" fill="#e8382a" textLength="38" lengthAdjust="spacingAndGlyphs">Guide</text>
</svg>
</body></html>
